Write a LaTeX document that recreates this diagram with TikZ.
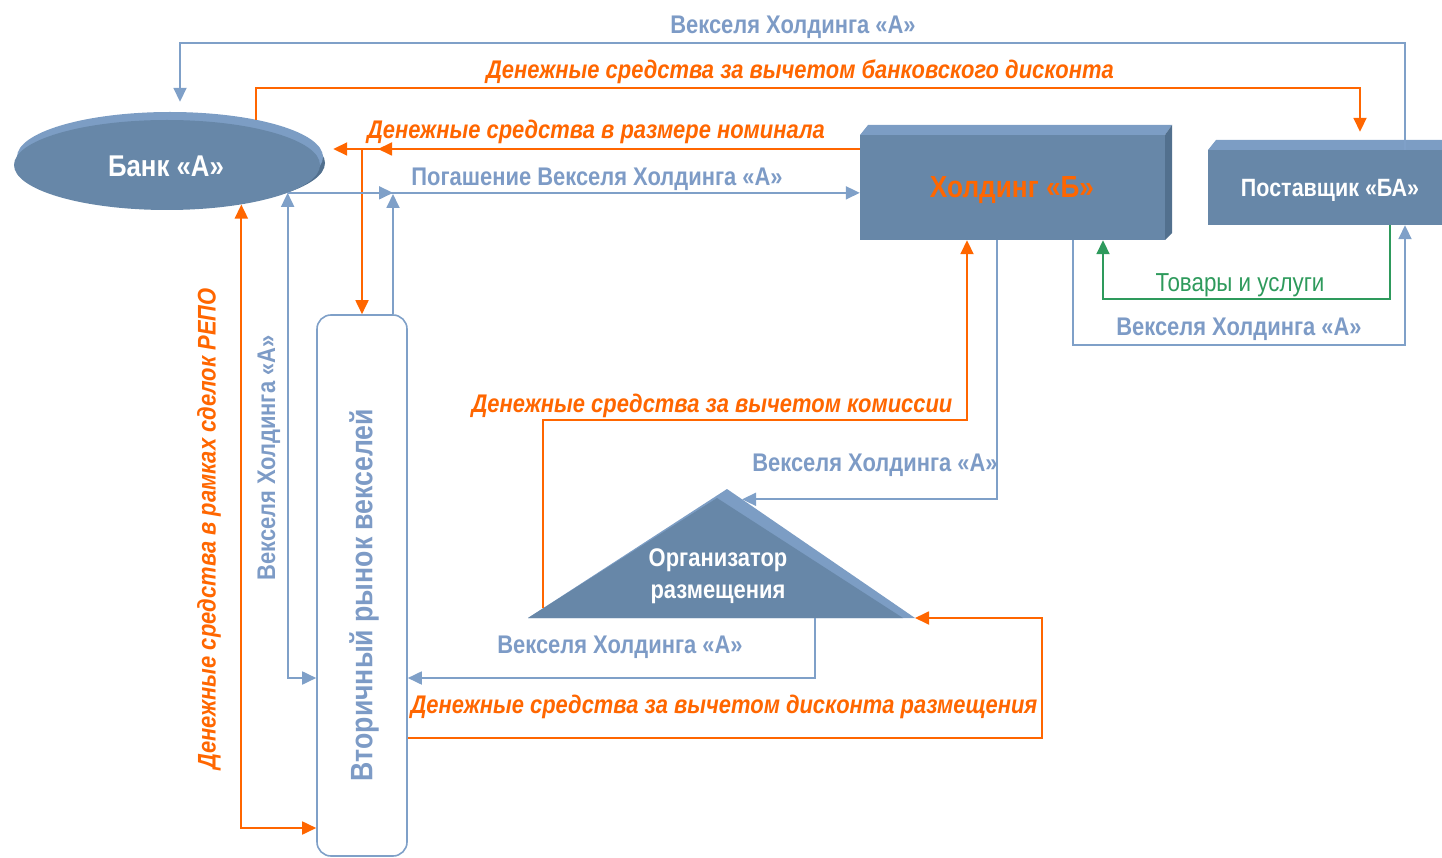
\documentclass[tikz,border=0pt]{standalone}
\usepackage{fontspec}
\setmainfont{Liberation Sans}[FakeStretch=0.86]
\usetikzlibrary{shapes.geometric,calc,arrows.meta}

\definecolor{lineblue}{HTML}{7FA0C8}
\definecolor{textblue}{HTML}{7D9BC6}
\definecolor{cashorange}{HTML}{FF6600}
\definecolor{goodsgreen}{HTML}{2E9A5C}
\definecolor{boxfill}{HTML}{6787A8}
\definecolor{boxlight}{HTML}{7C9DC4}
\definecolor{boxdark}{HTML}{52708E}

\tikzset{
  bills/.style = {draw = lineblue, line width = 1.8pt},
  cash/.style = {draw = cashorange, line width = 1.8pt},
  goods/.style = {draw = goodsgreen, line width = 1.8pt},
  billtext/.style = {text = textblue, font = \bfseries\fontsize{25.5}{25.5}\selectfont},
  cashtext/.style = {text = cashorange, font = \bfseries\itshape\fontsize{25.5}{25.5}\selectfont},
  whitetext/.style = {text = white, font = \bfseries\fontsize{26}{30}\selectfont}
}

\begin{document}
\begin{tikzpicture}[x = 1pt, y = -1pt, >={Triangle[length=14pt, width=13pt]}]

    \useasboundingbox (0,0) rectangle (1442,858);

    % Bank
    \node[ellipse, fill = boxdark,
    minimum width = 306pt,
    minimum height = 90pt] (bankD) at (172,163) {};
    \node[ellipse, fill = boxlight,
    minimum width = 306pt,
    minimum height = 90pt] (bankL) at (170,157) {};
    \node[ellipse, fill = boxfill,
    minimum width = 306pt,
    minimum height = 90pt] (bank) at (167,165) {};

    % Holding
    \fill[boxlight] (860,135) -- (868,125) -- (1172,125) -- (1165,135) -- cycle;
    \fill[boxdark] (1165,135) -- (1172,125) -- (1172,233) -- (1165,240) -- cycle;
    \node[rectangle, fill = boxfill,
    minimum width = 305pt,
    minimum height = 105pt] (hB) at (1012.5,187.5) {};

    % Supplier
    \fill[boxlight] (1208,150) -- (1216,140) -- (1442,140) -- (1442,150) -- cycle;
    \node[rectangle, fill = boxfill,
    minimum width = 234pt,
    minimum height = 75pt] (sup) at (1325,187.5) {};

    % Secondary market
    \node[rectangle, rounded corners = 14pt,
    draw = lineblue, line width = 1.6pt, fill = white,
    minimum width = 90pt,
    minimum height = 541pt] (market) at (362,585.5) {};

    % Placement organiser
    \coordinate (tL) at (528,618);
    \coordinate (tA) at (727,489);
    \coordinate (tR) at (915,618);
    \fill[boxlight] (tL) -- (tA) -- (tR) -- cycle;
    \fill[boxfill] (tL) -- (717,498) -- (903,618) -- cycle;

    \node[whitetext, font = \bfseries\fontsize{30}{30}\selectfont] (bankT) at (166,166) {Банк «А»};
    \node[text = cashorange, font = \bfseries\fontsize{30.5}{30.5}\selectfont] (hBT) at (1012,190) {Холдинг «Б»};
    \node[whitetext, font = \bfseries\fontsize{25}{25}\selectfont] (supT) at (1330,190) {Поставщик «БА»};
    \node[whitetext, font = \bfseries\fontsize{25.5}{32}\selectfont, align = center] (orgT) at (718,576) {Организатор\\размещения};
    \node[billtext, font = \bfseries\fontsize{31}{31}\selectfont, rotate = 90] (marketT) at (364,595) {Вторичный рынок векселей};

    % bend points
    \coordinate (topB) at (180,43);
    \coordinate (topC) at (256,88);
    \coordinate (topC2) at (1360,88);
    \coordinate (nom) at (362,149);
    \coordinate (pog) at (393,194);
    \coordinate (left1) at (0,678);
    \coordinate (repo) at (0,828);
    \coordinate (kom) at (967,420);
    \coordinate (komS) at ($(tL)!0.076!(tA)$);
    \coordinate (hBorg) at (997,496);
    \coordinate (orgIn) at ($(tA)!0.08!(tR)$);
    \coordinate (orgOut) at ($(tL)!0.742!(tR)$);
    \coordinate (disc) at (1042,738);
    \coordinate (g1) at (1390,299);
    \coordinate (g2) at (1103,299);
    \coordinate (v1) at (1073,345);
    \coordinate (v2) at (1405,345);

    % connectors
    \draw[bills, ->, shorten > = 18pt] ([xshift = 80pt]sup.north) |- (topB) -- (bank.north -| topB);
    \draw[cash, ->, shorten > = 18pt] (bank.north -| topC) -- (topC) -- (topC2) -- (sup.north -| topC2);

    \draw[cash, ->, shorten > = 13pt] (hB.west |- nom) -- (bank.east |- nom);
    \draw[cash, ->] (hB.west |- nom) -- ([xshift = 16pt]nom);
    \draw[cash, ->] (nom) -- (market.north -| nom);

    \draw[bills, ->] (bank.-13) -- (hB.west |- bank.-13);
    \draw[bills, ->] (bank.-13) -- (pog |- bank.-13);
    \draw[bills, ->] (market.north -| pog) -- (pog);
    \draw[bills, <->] (bank.-13) |- (market.west |- left1);
    \draw[cash, <->] (bank.-28) |- (market.west |- repo);

    \draw[cash, ->] (komS) |- (kom) -- (hB.south -| kom);
    \draw[bills, ->] (hB.south -| hBorg) |- (orgIn);
    \draw[bills, ->] (orgOut) |- (market.east |- left1);
    \draw[cash, ->] (market.east |- disc) -- (disc) |- (tR);

    \draw[goods, ->] (sup.south -| g1) -- (g1) -- (g2) -- (hB.south -| g2);
    \draw[bills, ->] (hB.south -| v1) -- (v1) -- (v2) -- (sup.south -| v2);

    % labels
    \node[billtext] (l1) at (793,27) {Векселя Холдинга «А»};
    \node[cashtext] (l2) at (800,72) {Денежные средства за вычетом банковского дисконта};
    \node[cashtext] (l3) at (596,132) {Денежные средства в размере номинала};
    \node[billtext] (l4) at (597,179) {Погашение Векселя Холдинга «А»};
    \node[cashtext] (l5) at (712,406) {Денежные средства за вычетом комиссии};
    \node[billtext] (l6) at (875,465) {Векселя Холдинга «А»};
    \node[billtext] (l7) at (620,647) {Векселя Холдинга «А»};
    \node[cashtext] (l8) at (724,707) {Денежные средства за вычетом дисконта размещения};
    \node[text = goodsgreen, font = \fontsize{26}{26}\selectfont] (l9) at (1240,285) {Товары и услуги};
    \node[billtext] (l10) at (1239,329) {Векселя Холдинга «А»};
    \node[billtext, rotate = 90] (l11) at (269,458) {Векселя Холдинга «А»};
    \node[cashtext, rotate = 90] (l12) at (209,529) {Денежные средства в рамках сделок РЕПО};

\end{tikzpicture}
\end{document}
